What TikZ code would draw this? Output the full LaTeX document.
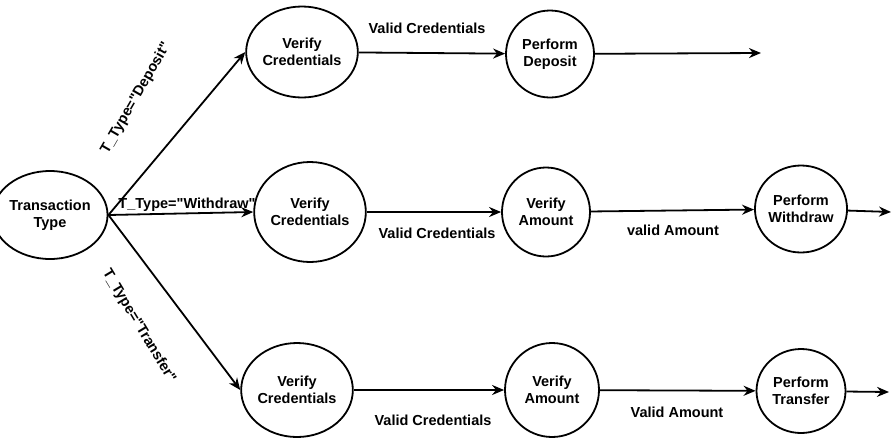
\documentclass[tikz,border=0pt]{standalone}
\usepackage{fontspec}
\setmainfont{Liberation Sans}[Ligatures=TeXOff]
\usetikzlibrary{arrows.meta,shapes.geometric}
\tikzset{>={Stealth[length=12pt,width=10pt]}}
\tikzset{
  stnode/.style={ellipse, draw, line width=1.8pt, inner sep=0pt, align=center, font=\bfseries\fontsize{14.5}{17}\selectfont},
  arrow/.style={->, line width=1.8pt},
  lbl/.style={font=\bfseries\fontsize{14.5}{17}\selectfont, inner sep=1pt},
}

\begin{document}
\begin{tikzpicture}[x=1pt, y=-1pt]
\useasboundingbox (0,0) rectangle (891,437);

% --- start node ---
\node[stnode, minimum width=94pt, minimum height=88pt] (tt) at (50,215) {Transaction\\Type};

% --- deposit row ---
\node[stnode, minimum width=91pt, minimum height=91pt] (vcA) at (302,52) {Verify\\Credentials};
\node[stnode, minimum width=88pt, minimum height=87pt] (pd) at (550,54) {Perform\\Deposit};
\coordinate (outA) at (761,53);

% --- withdraw row ---
\node[stnode, minimum width=96pt, minimum height=100pt] (vcB) at (310,212) {Verify\\Credentials};
\node[stnode, minimum width=88pt, minimum height=89pt] (vaB) at (546,212) {Verify\\Amount};
\node[stnode, minimum width=82pt, minimum height=87pt] (pw) at (801,209) {Perform\\Withdraw};
\coordinate (outB) at (891,212);

% --- transfer row ---
\node[stnode, minimum width=98pt, minimum height=94pt] (vcC) at (297,390) {Verify\\Credentials};
\node[stnode, minimum width=94pt, minimum height=94pt] (vaC) at (552,390) {Verify\\Amount};
\node[stnode, minimum width=89pt, minimum height=84pt] (pt) at (801,391) {Perform\\Transfer};
\coordinate (outC) at (889,392);

% branches out of the start node
\draw[arrow] (tt.east) -- (vcA.west);
\draw[arrow] (tt.east) -- (vcB.west);
\draw[arrow] (tt.east) -- (vcC.west);

\draw[arrow] (vcA) -- (pd);
\draw[arrow] (pd) -- (outA);
\draw[arrow] (vcB) -- (vaB);
\draw[arrow] (vaB) -- (pw);
\draw[arrow] (pw) -- (outB);
\draw[arrow] (vcC) -- (vaC);
\draw[arrow] (vaC) -- (pt);
\draw[arrow] (pt) -- (outC);

% labels
\node[lbl, rotate=60] (lDep) at (136,98) {T\_Type="Deposit"};
\node[lbl] (lWd) at (187,205) {T\_Type="Withdraw"};
\node[lbl, rotate=-59] (lTr) at (139,326) {T\_Type="Transfer"};
\node[lbl] (lvcA) at (427,28) {Valid Credentials};
\node[lbl] (lvcB) at (437,233) {Valid Credentials};
\node[lbl] (lvaB) at (673,230) {valid Amount};
\node[lbl] (lvcC) at (433,420) {Valid Credentials};
\node[lbl] (lvaC) at (677,412) {Valid Amount};
\end{tikzpicture}
\end{document}
